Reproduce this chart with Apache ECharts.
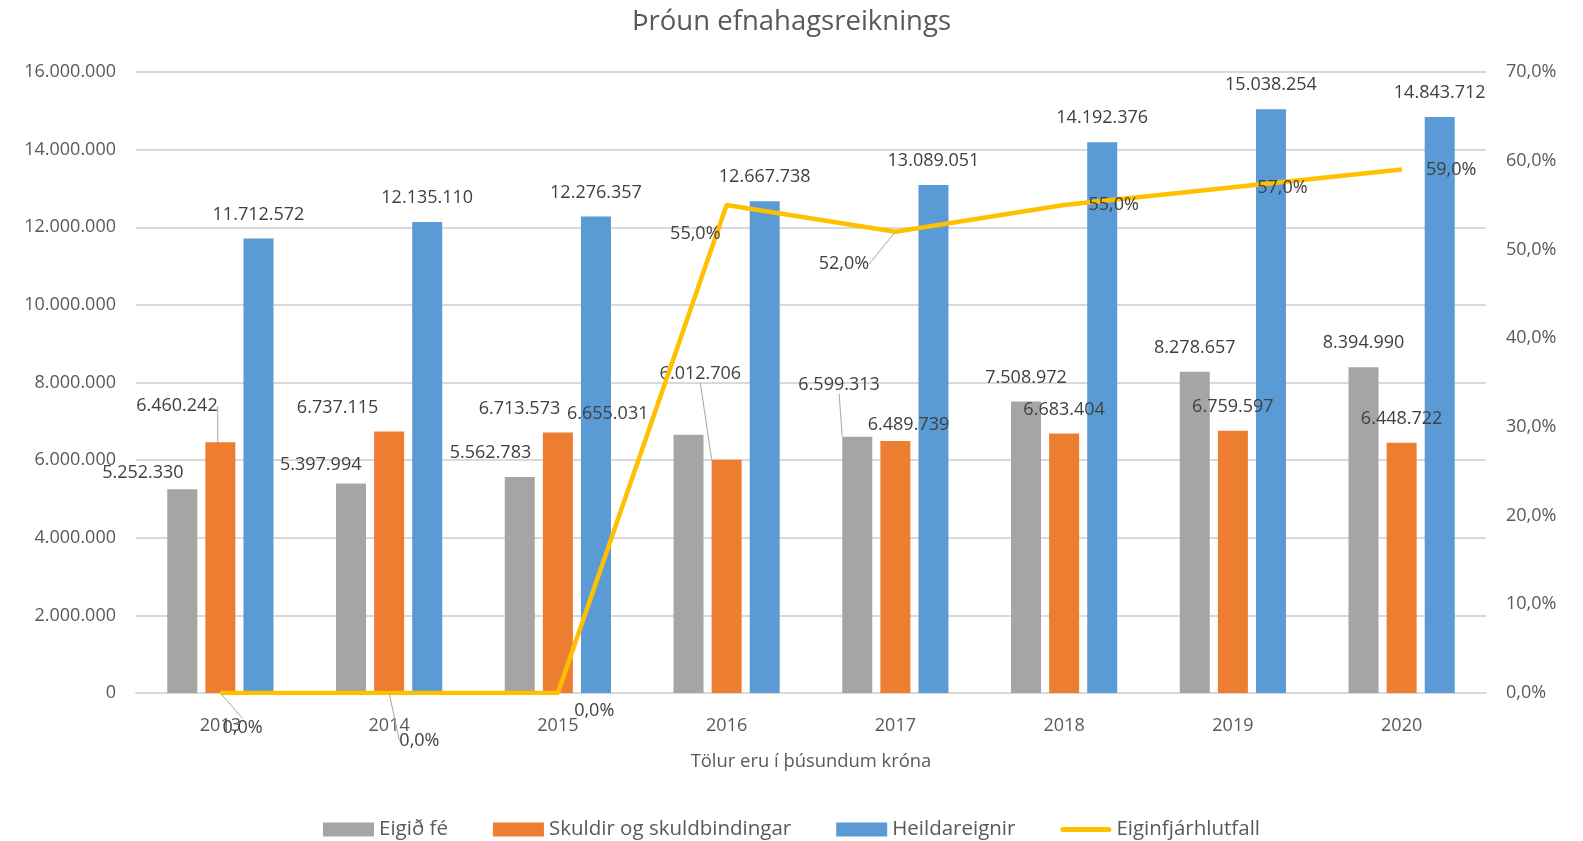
<!DOCTYPE html>
<html>
<head>
<meta charset="utf-8">
<script src="https://cdn.jsdelivr.net/npm/echarts@6/dist/echarts.min.js"></script>
<style>
html,body{margin:0;padding:0;background:#fff;}
#chart{width:1583px;height:841px;}
</style>
</head>
<body>
<div id="chart"></div>
<script>
// ---- DATA ----
const years = ['2013','2014','2015','2016','2017','2018','2019','2020'];
const eigidFe = [5252330, 5397994, 5562783, 6655031, 6599313, 7508972, 8278657, 8394990];
const skuldir = [6460242, 6737115, 6713573, 6012706, 6489739, 6683404, 6759597, 6448722];
const heildareignir = [11712572, 12135110, 12276357, 12667738, 13089051, 14192376, 15038254, 14843712];
const eiginfjarhlutfall = [0, 0, 0, 55, 52, 55, 57, 59];
const seriesNames = ['Eigið fé', 'Skuldir og skuldbindingar', 'Heildareignir', 'Eiginfjárhlutfall'];
const titleText = 'Þróun efnahagsreiknings';
const xAxisName = 'Tölur eru í þúsundum króna';

// ---- label placement (style, not data) ----
const shifts = {
  gray:   [[-39,8],[-30,5],[-29,0],[-80,3],[-18,-28],[0,0],[0,0],[0,0]],
  orange: [[-43,-12],[-51,0],[-38,0],[-26,-61],[13,8],[0,0],[0,0],[0,0]],
  blue:   [[0,0],[0,0],[0,0],[0,0],[0,0],[0,0],[0,0],[0,0]],
  line:   [[22,49],[30,62],[36,33],[-31,43],[-51,47],[49,15],[49,15],[49,15]]
};
const leaders = {
  gray:   [0,0,0,0,1,0,0,0],
  orange: [1,0,0,1,0,0,0,0],
  blue:   [0,0,0,0,0,0,0,0],
  line:   [1,1,0,0,1,0,0,0]
};

const fmtNum = v => String(Math.round(v)).replace(/\B(?=(\d{3})+(?!\d))/g, '.');
const fmtPct = v => v.toFixed(1).replace('.', ',') + '%';

const FONT = '"Open Sans", sans-serif';
const txt = '#404040';
const leaderStyle = {color: '#A6A6A6', width: 1};

function items(values, key){
  return values.map((v,i) => ({value: v, labelLine: {show: !!leaders[key][i], lineStyle: leaderStyle}}));
}
function layoutFn(key){
  return p => ({dx: shifts[key][p.dataIndex][0] * 1.01, dy: shifts[key][p.dataIndex][1] * 1.01});
}
function barSeries(name, values, color, key){
  return {
    name, type: 'bar', yAxisIndex: 0, data: items(values, key),
    barWidth: 30, barGap: '27%',
    itemStyle: {color},
    label: {show: true, position: 'top', distance: 15, color: txt, fontSize: 18, fontFamily: FONT,
            formatter: p => fmtNum(p.value)},
    labelLine: {show: false, lineStyle: leaderStyle},
    labelLayout: layoutFn(key)
  };
}

const chart = echarts.init(document.getElementById('chart'), null, {renderer: 'canvas'});
chart.setOption({
  animation: false,
  backgroundColor: '#ffffff',
  title: {text: titleText, left: 'center', top: 3,
          textStyle: {fontFamily: FONT, fontSize: 27.5, fontWeight: 'normal', color: '#595959'}},
  grid: {left: 136, right: 97, top: 72, bottom: 148, containLabel: false},
  legend: {
    top: 814, left: 'center', itemWidth: 51, itemHeight: 14, itemGap: 45,
    textStyle: {fontFamily: FONT, fontSize: 20.5, color: '#595959'},
    data: [
      {name: seriesNames[0], icon: 'rect'},
      {name: seriesNames[1], icon: 'rect'},
      {name: seriesNames[2], icon: 'rect'},
      {name: seriesNames[3], icon: 'path://M2,0 L48,0 A2.5,2.5 0 0 1 48,5 L2,5 A2.5,2.5 0 0 1 2,0 Z'}
    ]
  },
  xAxis: {
    type: 'category', data: years,
    name: xAxisName, nameLocation: 'middle', nameGap: 60,
    nameTextStyle: {fontFamily: FONT, fontSize: 18.4, color: '#595959'},
    axisLine: {lineStyle: {color: '#D9D9D9', width: 2}},
    axisTick: {show: false},
    axisLabel: {fontFamily: FONT, fontSize: 18, color: '#595959', margin: 24}
  },
  yAxis: [
    {type: 'value', min: 0, max: 16000000, interval: 2000000,
     axisLine: {show: false}, axisTick: {show: false},
     axisLabel: {fontFamily: FONT, fontSize: 18, color: '#595959', margin: 20, formatter: fmtNum},
     splitLine: {lineStyle: {color: '#D9D9D9', width: 2}}},
    {type: 'value', min: 0, max: 70, interval: 10, position: 'right',
     axisLine: {show: false}, axisTick: {show: false},
     axisLabel: {fontFamily: FONT, fontSize: 18, color: '#595959', margin: 20, formatter: fmtPct},
     splitLine: {show: false}}
  ],
  series: [
    barSeries(seriesNames[0], eigidFe, '#A5A5A5', 'gray'),
    barSeries(seriesNames[1], skuldir, '#ED7D31', 'orange'),
    barSeries(seriesNames[2], heildareignir, '#5B9BD5', 'blue'),
    {
      name: seriesNames[3], type: 'line', yAxisIndex: 1, data: items(eiginfjarhlutfall, 'line'),
      symbol: 'circle', symbolSize: 2, showSymbol: true,
      itemStyle: {color: '#FFC000'},
      lineStyle: {color: '#FFC000', width: 4.5},
      label: {show: true, position: 'top', distance: 5, color: txt, fontSize: 18, fontFamily: FONT,
              formatter: p => fmtPct(p.value)},
      labelLine: {show: false, lineStyle: leaderStyle},
      labelLayout: layoutFn('line'),
      z: 5
    }
  ]
});
</script>
</body>
</html>
